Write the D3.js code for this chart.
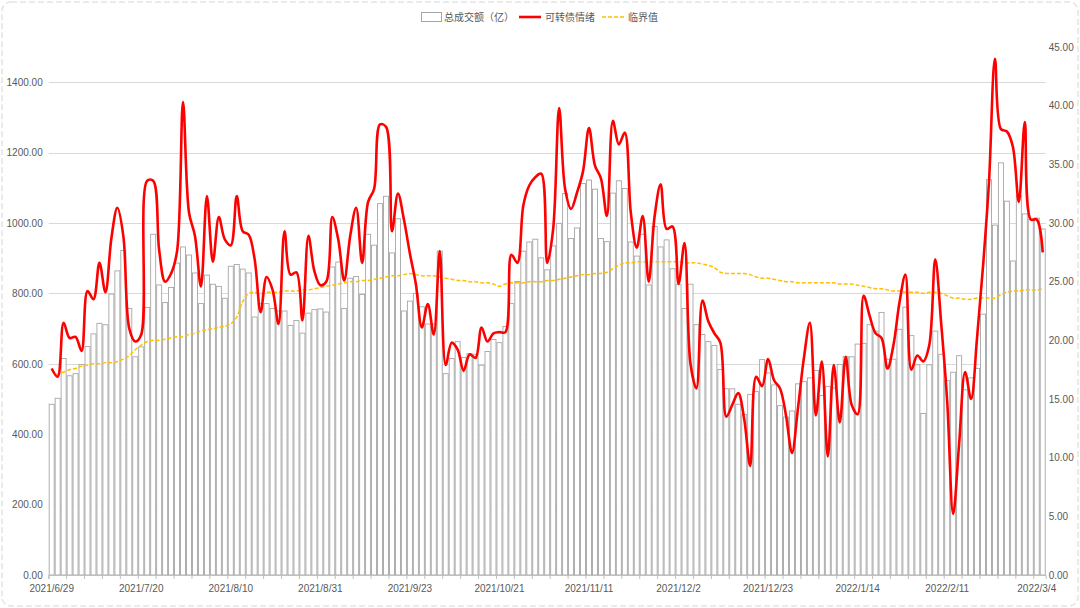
<!DOCTYPE html>
<html>
<head>
<meta charset="utf-8">
<script src="https://cdn.jsdelivr.net/npm/d3@7"></script>
<style>
  body { margin: 0; background: #fff; }
  svg { display: block; }
</style>
</head>
<body>
<div id="chart-area"></div>
<script>
// x-axis labels, one every 15 trading days
var tickLabels = ["2021/6/29", "2021/7/20", "2021/8/10", "2021/8/31", "2021/9/23", "2021/10/21",
                  "2021/11/11", "2021/12/2", "2021/12/23", "2022/1/14", "2022/2/11", "2022/3/4"];

var seriesNames = ["总成交额（亿）", "可转债情绪", "临界值"];

// 总成交额（亿）- left axis
var amount = [485,502,615,566,572,598,649,685,715,711,
              798,864,922,757,620,648,760,968,824,774,
              817,886,932,909,858,771,852,826,820,786,
              877,882,869,858,733,771,771,757,750,750,
              709,723,687,744,754,756,747,875,889,757,
              843,848,797,968,937,1055,1076,915,1012,750,
              778,800,762,713,713,920,572,615,663,618,
              629,627,596,635,669,660,706,771,834,920,
              946,954,901,867,935,999,1084,956,986,1112,
              1122,1096,956,947,1085,1120,1098,946,906,968,
              824,990,932,952,870,826,757,826,711,683,
              663,652,584,529,529,485,456,513,521,612,
              574,540,481,449,466,543,550,560,581,510,
              536,531,598,621,620,656,658,711,693,746,
              613,613,698,761,680,597,459,597,693,627,
              552,576,623,526,560,587,741,1123,994,1171,
              1062,892,1078,1026,1011,1014,983];

// 可转债情绪 - right axis
var mood = [17.6,16.9,21.5,20.2,20.3,19.1,24.2,23.5,26.6,24.1,
            28.7,31.3,28.9,21.0,19.9,20.5,33.6,33.6,27.7,25.0,
            25.7,27.6,40.3,30.9,28.9,24.6,32.3,26.7,30.5,28.6,
            28.1,32.3,29.3,29.0,26.9,22.4,25.4,24.3,21.4,29.3,
            25.6,25.8,21.7,28.9,25.9,24.7,25.0,30.5,28.6,25.1,
            28.9,31.3,26.6,31.8,32.9,38.4,38.2,29.3,32.5,30.3,
            27.4,24.8,21.1,23.1,20.5,27.6,17.9,19.8,19.2,17.4,
            18.8,18.5,21.1,19.9,20.6,20.7,20.7,27.3,26.6,31.5,
            33.2,33.9,34.2,26.6,29.5,39.8,32.9,31.2,32.6,34.4,
            38.1,34.9,33.8,30.6,38.7,36.7,37.7,30.9,27.9,30.6,
            25.0,30.6,33.3,29.5,29.7,24.8,28.3,18.0,15.9,23.4,
            21.6,20.6,19.8,13.5,14.5,15.5,13.3,9.3,16.9,16.1,
            18.4,16.6,15.9,13.6,10.4,14.2,18.5,21.5,13.6,18.2,
            10.1,17.9,13.0,18.6,14.5,13.7,23.8,22.1,20.6,20.2,
            17.6,19.6,23.2,25.6,17.5,18.7,18.2,19.6,26.9,21.4,
            14.8,5.2,11.2,17.3,15.0,20.2,26.3,33.5,44.0,38.0,
            37.8,36.5,31.8,38.6,30.3,30.3,27.5];

// 临界值 - right axis
var threshold = [17.5,17.1,17.3,17.5,17.6,17.8,17.9,18.0,18.0,18.1,
                 18.1,18.2,18.4,18.7,19.2,19.6,19.9,20.0,20.0,20.1,
                 20.2,20.3,20.3,20.5,20.6,20.8,20.9,21.0,21.1,21.2,
                 21.4,22.0,23.3,24.0,24.1,24.0,24.1,24.1,24.1,24.2,
                 24.2,24.2,24.3,24.3,24.4,24.5,24.6,24.7,24.8,24.9,
                 25.0,25.0,25.1,25.1,25.2,25.3,25.4,25.5,25.5,25.6,
                 25.7,25.6,25.5,25.5,25.5,25.4,25.3,25.2,25.1,25.1,
                 25.0,25.0,24.9,24.9,24.8,24.6,24.8,24.9,24.9,24.9,
                 25.0,25.0,25.0,25.1,25.1,25.2,25.3,25.4,25.5,25.6,
                 25.6,25.7,25.7,25.8,26.1,26.4,26.6,26.6,26.7,26.7,
                 26.7,26.7,26.7,26.7,26.7,26.7,26.6,26.6,26.6,26.5,
                 26.4,26.2,25.8,25.7,25.7,25.7,25.7,25.6,25.4,25.3,
                 25.3,25.2,25.1,25.0,25.0,24.9,24.9,24.9,24.9,24.9,
                 24.9,24.9,24.8,24.8,24.8,24.7,24.6,24.5,24.4,24.4,
                 24.3,24.2,24.2,24.1,24.1,24.1,24.0,24.1,24.1,24.0,
                 23.8,23.6,23.6,23.5,23.5,23.6,23.6,23.6,23.6,23.9,
                 24.1,24.2,24.2,24.3,24.3,24.3,24.4];

var leftTicks = [0, 200, 400, 600, 800, 1000, 1200, 1400];
var rightTicks = [0, 5, 10, 15, 20, 25, 30, 35, 40, 45];

var W = 1080, H = 608;
var margin = {left: 48.7, right: 34.3, top: 47, bottom: 33};
var width = W - margin.left - margin.right;
var height = H - margin.top - margin.bottom;

var font = "'Liberation Sans', Arial, sans-serif";
var cjk = "'Noto Sans CJK SC', sans-serif";
var textColor = "#595959";

var svg = d3.select("#chart-area").append("svg")
    .attr("width", W)
    .attr("height", H);

svg.append("rect")
    .attr("width", W)
    .attr("height", H)
    .attr("fill", "#fff");

// outer frame
svg.append("rect")
    .attr("x", 2)
    .attr("y", 2)
    .attr("width", W - 4)
    .attr("height", H - 4)
    .attr("rx", 9)
    .attr("fill", "none")
    .attr("stroke", "#e4e4e4")
    .attr("stroke-width", 1.5)
    .attr("stroke-dasharray", "6,3");

var g = svg.append("g")
    .attr("transform", "translate(" + margin.left + "," + margin.top + ")");

var x = d3.scaleBand()
    .domain(d3.range(amount.length))
    .range([0, width])
    .paddingInner(0.16)
    .paddingOuter(0.08);

var y = d3.scaleLinear()
    .domain([0, 1500])
    .range([height, 0]);

var y2 = d3.scaleLinear()
    .domain([0, 45])
    .range([height, 0]);

// gridlines
g.append("g")
    .attr("class", "grid")
    .selectAll("line")
    .data(leftTicks.slice(1))
    .enter().append("line")
        .attr("x1", 0)
        .attr("x2", width)
        .attr("y1", function(d) { return Math.round(y(d)) + 0.5; })
        .attr("y2", function(d) { return Math.round(y(d)) + 0.5; })
        .attr("stroke", "#d9d9d9")
        .attr("stroke-width", 1);

// left axis
var yAxis = g.append("g")
    .attr("class", "y-axis")
    .call(d3.axisLeft(y).tickValues(leftTicks).tickSize(0).tickPadding(6)
        .tickFormat(d3.format(".2f")));
yAxis.select(".domain").remove();
yAxis.selectAll("text")
    .attr("fill", textColor)
    .attr("font-family", font)
    .attr("font-size", 10);

// right axis
var y2Axis = g.append("g")
    .attr("class", "y2-axis")
    .attr("transform", "translate(" + width + ",0)")
    .call(d3.axisRight(y2).tickValues(rightTicks).tickSize(0).tickPadding(3)
        .tickFormat(d3.format(".2f")));
y2Axis.select(".domain").remove();
y2Axis.selectAll("text")
    .attr("fill", textColor)
    .attr("font-family", font)
    .attr("font-size", 10);

// bars
g.append("g")
    .attr("class", "bars")
    .selectAll("rect")
    .data(amount)
    .enter().append("rect")
        .attr("x", function(d, i) { return x(i); })
        .attr("y", function(d) { return y(d); })
        .attr("width", x.bandwidth())
        .attr("height", function(d) { return height - y(d); })
        .attr("fill", "#fff")
        .attr("stroke", "#a6a6a6")
        .attr("stroke-width", 0.9);

// x axis
var xAxis = g.append("g")
    .attr("class", "x-axis")
    .attr("transform", "translate(0," + height + ")")
    .call(d3.axisBottom(x)
        .tickValues(d3.range(0, amount.length, 3))
        .tickSize(4)
        .tickFormat(""));
xAxis.select(".domain").attr("stroke", "#bfbfbf");
xAxis.selectAll(".tick line")
    .attr("stroke", "#bfbfbf")
    .attr("transform", "translate(" + (-x.step() / 2) + ",0)");

g.append("g")
    .attr("class", "x-labels")
    .selectAll("text")
    .data(tickLabels)
    .enter().append("text")
        .attr("x", function(d, i) { return x(i * 15) + x.bandwidth() / 2; })
        .attr("y", height + 17)
        .attr("text-anchor", "middle")
        .attr("fill", textColor)
        .attr("font-family", font)
        .attr("font-size", 10)
        .text(function(d) { return d; });

// lines
var cx = function(d, i) { return x(i) + x.bandwidth() / 2; };

var moodLine = d3.line()
    .x(cx)
    .y(function(d) { return y2(d); })
    .curve(d3.curveCatmullRom.alpha(0.5));

g.append("path")
    .datum(threshold)
    .attr("d", moodLine)
    .attr("fill", "none")
    .attr("stroke", "#ffc000")
    .attr("stroke-width", 1.5)
    .attr("stroke-dasharray", "4,2");

g.append("path")
    .datum(mood)
    .attr("d", moodLine)
    .attr("fill", "none")
    .attr("stroke", "#ff0000")
    .attr("stroke-width", 2.6)
    .attr("stroke-linejoin", "round");

// LEGEND
var legend = svg.append("g")
    .attr("transform", "translate(421,17)");

legend.append("rect")
    .attr("x", 0.5)
    .attr("y", -4.5)
    .attr("width", 20)
    .attr("height", 9)
    .attr("fill", "#fff")
    .attr("stroke", "#a6a6a6");
legend.append("text")
    .attr("x", 23)
    .attr("y", 3.5)
    .attr("font-family", cjk)
    .attr("font-size", 10)
    .attr("fill", textColor)
    .text(seriesNames[0]);

legend.append("line")
    .attr("x1", 98).attr("x2", 120)
    .attr("y1", 0).attr("y2", 0)
    .attr("stroke", "#ff0000")
    .attr("stroke-width", 2.6);
legend.append("text")
    .attr("x", 124)
    .attr("y", 3.5)
    .attr("font-family", cjk)
    .attr("font-size", 10)
    .attr("fill", textColor)
    .text(seriesNames[1]);

legend.append("line")
    .attr("x1", 181).attr("x2", 203)
    .attr("y1", 0).attr("y2", 0)
    .attr("stroke", "#ffc000")
    .attr("stroke-width", 1.5)
    .attr("stroke-dasharray", "4,2");
legend.append("text")
    .attr("x", 207)
    .attr("y", 3.5)
    .attr("font-family", cjk)
    .attr("font-size", 10)
    .attr("fill", textColor)
    .text(seriesNames[2]);
</script>
</body>
</html>
